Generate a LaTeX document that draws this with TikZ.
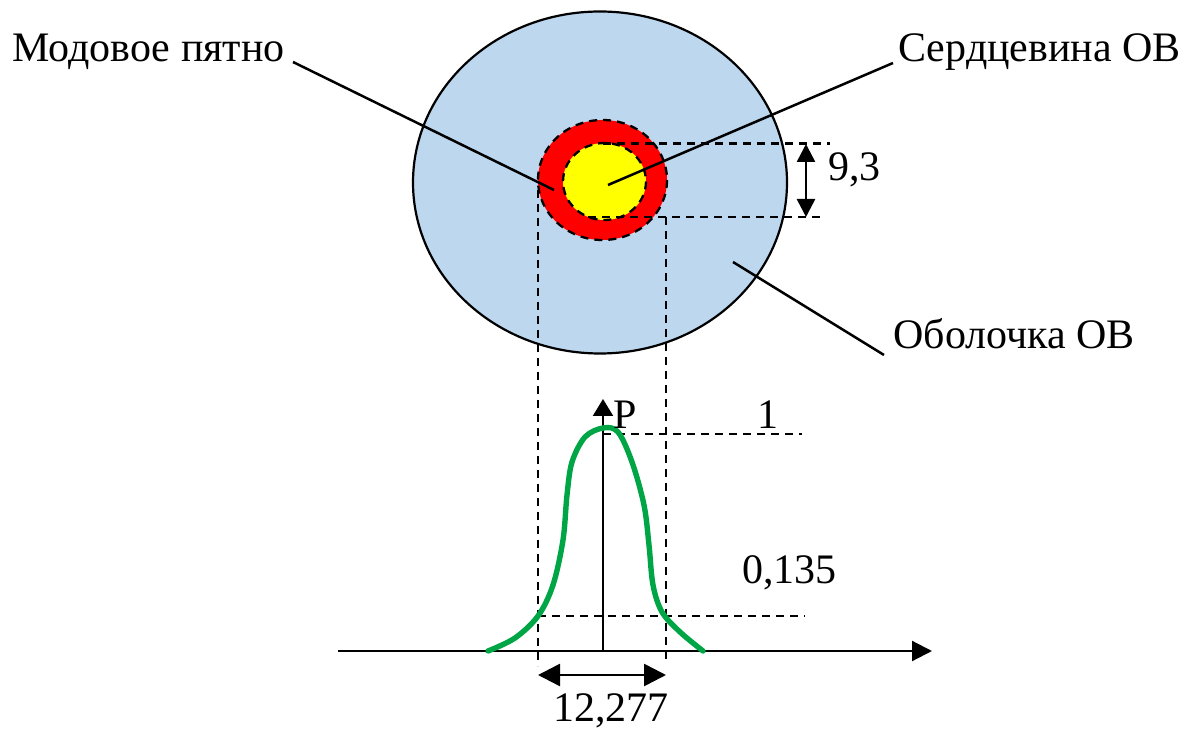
\documentclass[tikz,border=0pt]{standalone}
\usepackage{fontspec}
\setmainfont{Liberation Serif}
\usetikzlibrary{arrows.meta}
\definecolor{cladblue}{HTML}{BDD7EE}
\definecolor{modered}{HTML}{FF0000}
\definecolor{coreyellow}{HTML}{FFFF00}
\definecolor{curvegreen}{HTML}{00A645}
\begin{document}
\begin{tikzpicture}[x=0.5pt,y=-0.5pt,
  lbl/.style={inner sep=0pt, anchor=base west, font=\fontsize{21}{24}\selectfont},
  leader/.style={line width=1.25pt},
  dsh/.style={line width=1.15pt, dash pattern=on 4pt off 3pt},
  dimarrow/.style={line width=1.3pt, {Triangle[length=9pt,width=9pt]}-{Triangle[length=9pt,width=9pt]}},
  widtharrow/.style={line width=1.3pt, {Triangle[length=11pt,width=11pt]}-{Triangle[length=11pt,width=11pt]}},
  axisline/.style={line width=1.1pt}]
\useasboundingbox (0,0) rectangle (1183,731);

% fibre cross-section
\filldraw[fill=cladblue, draw=black, line width=1.1pt] (600,182.5) ellipse [x radius=187, y radius=171];
\fill[modered] (602.5,180) ellipse [x radius=64.5, y radius=60];
\draw[dsh] (602.5,180) ellipse [x radius=64.5, y radius=60];
\fill[coreyellow] (604.5,181.5) ellipse [x radius=41.5, y radius=38.5];
\draw[dsh] (604.5,181.5) ellipse [x radius=41.5, y radius=38.5];

% coordinates
\coordinate (t1) at (603,143.5);
\coordinate (t2) at (830,143.5);
\coordinate (b1) at (588,217);
\coordinate (b2) at (825,217);
\coordinate (vl1) at (538,190);
\coordinate (vl2) at (538,666);
\coordinate (vr1) at (666,217);
\coordinate (vr2) at (666,660);
\coordinate (d1) at (806,144);
\coordinate (d2) at (806,217);

% dashed projection lines
\draw[dsh] (t1) -- (t2);
\draw[dsh] (b1) -- (b2);
\draw[dsh] (vl1) -- (vl2);
\draw[dsh] (vr1) -- (vr2);
\draw[dimarrow] (d1) -- (d2);

% labels
\node[lbl] (lmode) at (12,62) {Модовое пятно};
\node[lbl] (lcore) at (898,62) {Сердцевина ОВ};
\node[lbl] (lclad) at (893,349) {Оболочка ОВ};
\node[lbl] (ldia) at (828,181) {9,3};

% leaders
\coordinate (m1) at (293,62);
\coordinate (m2) at (554,190);
\coordinate (c1) at (893,63);
\coordinate (c2) at (608,185);
\coordinate (o1) at (733,262);
\coordinate (o2) at (884,355);
\draw[leader] (m1) -- (m2);
\draw[leader] (c1) -- (c2);
\draw[leader] (o1) -- (o2);

% graph
\coordinate (xa) at (338,651);
\coordinate (xb) at (932,651);
\coordinate (p0) at (603,651);
\coordinate (p1) at (603,399);
\draw[axisline, -{Triangle[length=10pt,width=10pt]}] (xa) -- (xb);
\draw[axisline, -{Triangle[length=8.5pt,width=10pt]}] (p0) -- (p1);

\coordinate (h1a) at (603,434);
\coordinate (h1b) at (802,434);
\coordinate (h2a) at (538,616);
\coordinate (h2b) at (805,616);
\draw[dsh] (h1a) -- (h1b);
\draw[dsh] (h2a) -- (h2b);

\draw[curvegreen, line width=2.7pt, line cap=round] plot[smooth, tension=0.55] coordinates {
 (488,651) (515,638) (538,616) (553,585) (563,540) (567,495) (572,462) (585,437) (603,428)
 (618,432) (632,462) (644,505) (649,545) (653,585) (662,612) (680,632) (703,651)};

\node[lbl] (lP) at (613,429) {P};
\node[lbl] (lone) at (757,429) {1};
\node[lbl] (llow) at (742,583) {0,135};

\coordinate (w1) at (538,675);
\coordinate (w2) at (666,675);
\draw[widtharrow] (w1) -- (w2);
\node[lbl] (lwidth) at (553,721) {12,277};
\end{tikzpicture}
\end{document}
